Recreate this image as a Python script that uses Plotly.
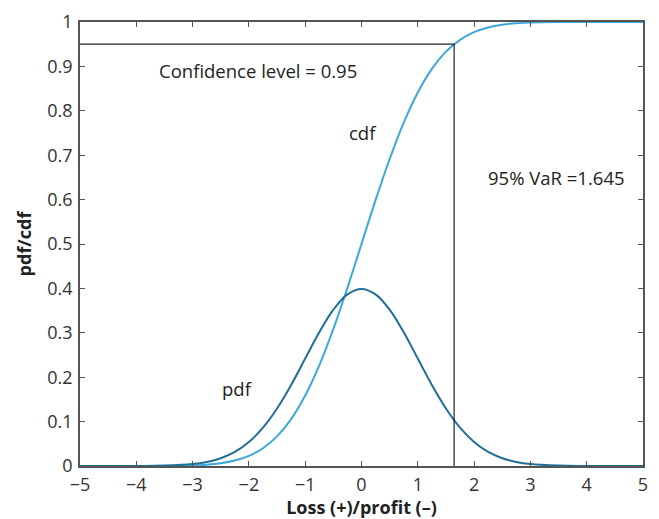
import plotly.graph_objects as go

# Values
x_vals = [-5, -4.5, -4, -3.5, -3, -2.75, -2.5, -2.25, -2, -1.75, -1.5, -1.25, -1, -0.75, -0.5, -0.25,
          0, 0.25, 0.5, 0.75, 1, 1.25, 1.5, 1.75, 2, 2.25, 2.5, 2.75, 3, 3.5, 4, 4.5, 5]
pdf_vals = [0.0, 0.0, 0.0001, 0.0009, 0.0044, 0.0091, 0.0175, 0.0317, 0.054, 0.0863, 0.1295, 0.1826,
            0.242, 0.3011, 0.3521, 0.3867, 0.3989, 0.3867, 0.3521, 0.3011, 0.242, 0.1826, 0.1295,
            0.0863, 0.054, 0.0317, 0.0175, 0.0091, 0.0044, 0.0009, 0.0001, 0.0, 0.0]
cdf_vals = [0.0, 0.0, 0.0, 0.0002, 0.0013, 0.003, 0.0062, 0.0122, 0.0228, 0.0401, 0.0668, 0.1056,
            0.1587, 0.2266, 0.3085, 0.4013, 0.5, 0.5987, 0.6915, 0.7734, 0.8413, 0.8944, 0.9332,
            0.9599, 0.9772, 0.9878, 0.9938, 0.997, 0.9987, 0.9998, 1.0, 1.0, 1.0]
conf_level = 0.95
var_value = 1.645
x_ticks = [-5, -4, -3, -2, -1, 0, 1, 2, 3, 4, 5]
x_tick_text = ["\u22125", "\u22124", "\u22123", "\u22122", "\u22121", "0", "1", "2", "3", "4", "5"]
y_ticks = [0, 0.1, 0.2, 0.3, 0.4, 0.5, 0.6, 0.7, 0.8, 0.9, 1]
y_tick_text = ["0", "0.1", "0.2", "0.3", "0.4", "0.5", "0.6", "0.7", "0.8", "0.9", "1"]

FONT = "'Open Sans', sans-serif"

fig = go.Figure()
fig.add_trace(go.Scatter(x=x_vals, y=cdf_vals, mode="lines", line=dict(color="#3aa8dc", width=2, shape="spline"),
                         showlegend=False, hoverinfo="skip"))
fig.add_trace(go.Scatter(x=x_vals, y=pdf_vals, mode="lines", line=dict(color="#1f6e96", width=2, shape="spline"),
                         showlegend=False, hoverinfo="skip"))
# Confidence level and VaR lines
fig.add_trace(go.Scatter(x=[-5, var_value, var_value], y=[conf_level, conf_level, 0], mode="lines",
                         line=dict(color="#222222", width=1.2), showlegend=False, hoverinfo="skip"))

ann_font = dict(family=FONT, size=18.5, color="#222222")
fig.add_annotation(x=-1.84, y=0.891, text="Confidence level = 0.95", showarrow=False, font=ann_font)
fig.add_annotation(x=0.02, y=0.751, text="cdf", showarrow=False, font=ann_font)
fig.add_annotation(x=3.47, y=0.649, text="95% VaR =1.645", showarrow=False, font=ann_font)
fig.add_annotation(x=-2.2, y=0.175, text="pdf", showarrow=False, font=ann_font)

axis_common = dict(showgrid=False, zeroline=False, showline=True, linecolor="#555555", linewidth=1.5,
                   mirror="ticks", ticks="inside", ticklen=5, tickcolor="#555555", tickwidth=1,
                   automargin=False, tickfont=dict(family=FONT, size=18, color="#333333"))
fig.update_xaxes(range=[-5, 5], tickvals=x_ticks, ticktext=x_tick_text, ticklabelstandoff=2,
                 title=dict(text="<b>Loss (+)/profit (\u2013)</b>", font=dict(family=FONT, size=18, color="#222222"),
                            standoff=3), **axis_common)
fig.update_yaxes(range=[0, 1], tickvals=y_ticks, ticktext=y_tick_text, ticklabelstandoff=2,
                 title=dict(text="<b>pdf/cdf</b>", font=dict(family=FONT, size=18, color="#222222"), standoff=11),
                 **axis_common)
fig.update_layout(width=659, height=519, margin=dict(l=80, r=16, t=22, b=53),
                  plot_bgcolor="white", paper_bgcolor="white")
fig.write_html("out.html")
